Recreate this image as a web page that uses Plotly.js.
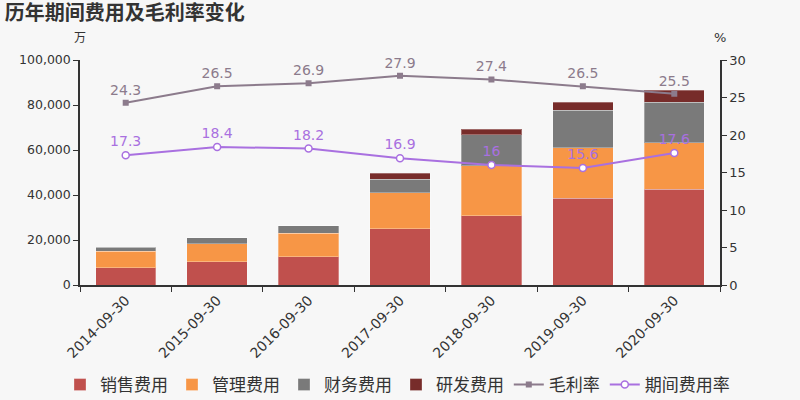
<!DOCTYPE html>
<html><head><meta charset="utf-8">
<script src="https://cdn.plot.ly/plotly-3.0.1.min.js"></script>
<style>body{margin:0;background:#f7f7f7}#c{width:800px;height:400px}</style>
</head><body><div id="c"></div>
<script>
const categories = ['2014-09-30','2015-09-30','2016-09-30','2017-09-30','2018-09-30','2019-09-30','2020-09-30'];
const sales = [7700, 10400, 12600, 25000, 30800, 38500, 42500];
const admin = [7300, 8000, 10500, 15900, 22100, 22500, 20700];
const finance = [1700, 2500, 3300, 6200, 13800, 16600, 18000];
const rnd = [0, 0, 0, 2500, 2600, 3600, 5300];
const grossMargin = [24.3, 26.5, 26.9, 27.9, 27.4, 26.5, 25.5];
const expenseRate = [17.3, 18.4, 18.2, 16.9, 16, 15.6, 17.6];

const font = 'DejaVu Sans, Noto Sans CJK SC, sans-serif';
const bar = (name, y, color) => ({type:'bar', name, x:categories, y, marker:{color, line:{color:'rgba(255,255,255,0.3)', width:1}}, hoverinfo:'y'});
const data = [
  bar('销售费用', sales, '#c0504d'),
  bar('管理费用', admin, '#f79646'),
  bar('财务费用', finance, '#7a7a7a'),
  bar('研发费用', rnd, '#772c2a'),
  {type:'scatter', mode:'lines+markers+text', name:'毛利率', legend:'legend2', cliponaxis:false, x:categories, y:grossMargin, yaxis:'y2',
   line:{color:'#8c7b8c', width:2}, marker:{symbol:'square', size:6, color:'#8c7b8c'},
   text:grossMargin.map(String), textposition:'top center', textfont:{color:'#8c7b8c', size:14, family:font}},
  {type:'scatter', mode:'lines+markers+text', name:'期间费用率', legend:'legend2', cliponaxis:false, x:categories, y:expenseRate, yaxis:'y2',
   line:{color:'#a970e0', width:2}, marker:{symbol:'circle', size:7, color:'#ffffff', line:{color:'#a970e0', width:1.5}},
   text:expenseRate.map(String), textposition:'top center', textfont:{color:'#a970e0', size:14, family:font}}
];
const legendBase = {orientation:'h', xref:'container', yref:'container', y:0.0375, yanchor:'middle', xanchor:'left', font:{size:17, color:'#333'}, itemwidth:30, traceorder:'normal', bgcolor:'rgba(0,0,0,0)'};
const layout = {
  width:800, height:400,
  paper_bgcolor:'#f7f7f7', plot_bgcolor:'#f7f7f7',
  font:{family:font, color:'#333', size:13},
  title:{text:'<b>历年期间费用及毛利率变化</b>', x:0.006, xanchor:'left', y:0.968, yanchor:'middle', font:{size:20, color:'#333'}},
  margin:{l:80, r:80, t:60, b:115},
  barmode:'stack', bargap:0.34,
  showlegend:true,
  legend:Object.assign({}, legendBase, {x:0.075, entrywidth:67, entrywidthmode:'pixels'}),
  legend2:Object.assign({}, legendBase, {x:0.636}),
  xaxis:{type:'category', automargin:false, tickangle:-45, showline:true, linecolor:'#333', linewidth:1.5, ticks:'outside', ticklen:5, tickcolor:'#333', tickson:'boundaries', showgrid:false, tickfont:{size:14, color:'#333'}},
  yaxis:{range:[0,100000], automargin:false, dtick:20000, tickformat:',d', showline:true, linecolor:'#333', linewidth:1.5, ticks:'outside', ticklen:5, tickcolor:'#333', showgrid:false, zeroline:false, tickfont:{size:12.5, color:'#333'}},
  yaxis2:{range:[0,30], automargin:false, dtick:5, overlaying:'y', side:'right', showline:true, linecolor:'#333', linewidth:1.5, ticks:'outside', ticklen:5, tickcolor:'#333', showgrid:false, zeroline:false, tickfont:{size:13, color:'#333'}},
  annotations:[
    {text:'万', xref:'paper', yref:'paper', x:0.0, y:1.098, xanchor:'center', yanchor:'middle', showarrow:false, font:{size:12, color:'#333'}},
    {text:'%', xref:'paper', yref:'paper', x:1.0, y:1.098, xanchor:'center', yanchor:'middle', showarrow:false, font:{size:13, color:'#333'}}
  ]
};
Plotly.newPlot('c', data, layout, {displayModeBar:false});
</script></body></html>
